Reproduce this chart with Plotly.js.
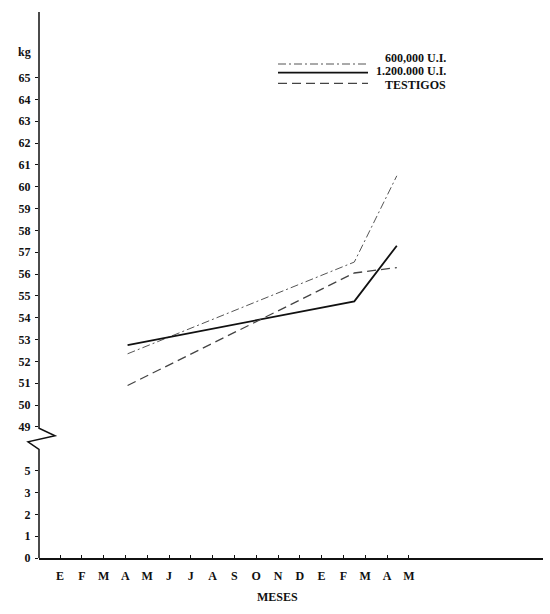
<!DOCTYPE html>
<html>
<head>
<meta charset="utf-8">
<script src="https://cdn.plot.ly/plotly-3.0.1.min.js"></script>
<style>html,body{margin:0;padding:0;background:#fff;}#chart{width:550px;height:614px;}</style>
</head>
<body>
<div id="chart"></div>
<script>
// Month tick labels (E F M A M J J A S O N D E F M A M)
const months = ['E','F','M','A','M','J','J','A','S','O','N','D','E','F','M','A','M'];
// Measurement positions along the month axis (0 = first E)
const sampleX = [3.1, 13.5, 15.45];
// Weights (kg)
const dose600 = [52.35, 56.55, 60.5];
const dose1200 = [52.75, 54.75, 57.3];
const testigos = [50.9, 56.05, 56.3];
// Series names
const names = ['600,000 U.I.', '1.200.000 U.I.', 'TESTIGOS'];
// Y tick labels: lower segment and upper segment (axis break between them)
const lowLabels = ['0','1','2','3','5'];
const highLabels = [49,50,51,52,53,54,55,56,57,58,59,60,61,62,63,64,65];

// broken axis: upper segment value v is placed at v - 43
const OFFSET = 43;
const toDisp = v => v - OFFSET;

const tickvals = lowLabels.map((_, i) => i).concat(highLabels.map(toDisp));
const ticktext = lowLabels.concat(highLabels.map(String));

const fam = 'Liberation Serif, DejaVu Serif, serif';
const font = {family: fam, size: 12, color: '#111'};
const legFont = {family: fam, size: 12, color: '#111'};

const traces = [
  {x: sampleX, y: dose600.map(toDisp), mode: 'lines', name: names[0],
   line: {color: '#555', width: 1, dash: '8px,3px,2px,3px'}},
  {x: sampleX, y: dose1200.map(toDisp), mode: 'lines', name: names[1],
   line: {color: '#111', width: 1.8}},
  {x: sampleX, y: testigos.map(toDisp), mode: 'lines', name: names[2],
   line: {color: '#444', width: 1.3, dash: '9px,5px'}}
];

const L = 39, R = 7, T = 12, B = 56, W = 550, H = 614;
const pw = W - L - R, ph = H - T - B;
const px = x => (x - L) / pw;
const py = y => (H - B - y) / ph;

const legendRows = [
  {y: 64, ty: 58, dash: '8px,3px,2px,3px', color: '#555', width: 1},
  {y: 72.7, ty: 71.5, dash: 'solid', color: '#111', width: 1.8},
  {y: 83.3, ty: 85, dash: '9px,5px', color: '#444', width: 1.3}
];

const shapes = [
  // y axis line with zigzag break
  {type: 'path', xref: 'paper', yref: 'y',
   path: 'M 0,25 L 0,5.94 L ' + (16/pw) + ',5.6 L ' + (-11/pw) + ',5.32 L 0,4.97 L 0,0',
   line: {color: '#111', width: 1.5}}
];
legendRows.forEach(r => shapes.push({
  type: 'line', xref: 'paper', yref: 'paper',
  x0: px(278), x1: px(368), y0: py(r.y), y1: py(r.y),
  line: {color: r.color, width: r.width, dash: r.dash}
}));

const annotations = [
  {text: '<b>kg</b>', xref: 'paper', yref: 'y', x: px(24), y: (H - B - 52) / (ph / 25),
   showarrow: false, font: font, xanchor: 'center', yanchor: 'middle'},
  {text: '<b>MESES</b>', xref: 'paper', yref: 'paper', x: px(277), y: py(597),
   showarrow: false, font: font, xanchor: 'center', yanchor: 'middle'}
];
legendRows.forEach((r, i) => annotations.push({
  text: '<b>' + names[i] + '</b>', xref: 'paper', yref: 'paper', x: px(447), y: py(r.ty),
  showarrow: false, font: legFont, xanchor: 'right', yanchor: 'middle', borderpad: 0
}));

const layout = {
  width: W, height: H,
  margin: {l: L, r: R, t: T, b: B},
  paper_bgcolor: '#fff', plot_bgcolor: '#fff',
  showlegend: false,
  font: font,
  xaxis: {
    range: [-(60 - L) / 21.8, -(60 - L) / 21.8 + pw / 21.8],
    tickvals: months.map((_, i) => i), ticktext: months.map(m => '<b>' + m + '</b>'),
    ticks: 'inside', ticklen: 3, tickcolor: '#111',
    showline: true, linecolor: '#111', linewidth: 1.5,
    showgrid: false, zeroline: false, ticklabelstandoff: 6,
    tickfont: font, fixedrange: true
  },
  yaxis: {
    range: [0, 25],
    tickvals: tickvals, ticktext: ticktext.map(t => '<b>' + t + '</b>'),
    ticks: 'outside', ticklen: 3, tickcolor: '#111',
    showline: false, showgrid: false, zeroline: false,
    ticklabelstandoff: 2, tickfont: font, fixedrange: true
  },
  shapes: shapes,
  annotations: annotations
};

Plotly.newPlot('chart', traces, layout, {displayModeBar: false, staticPlot: true});
</script>
</body>
</html>
